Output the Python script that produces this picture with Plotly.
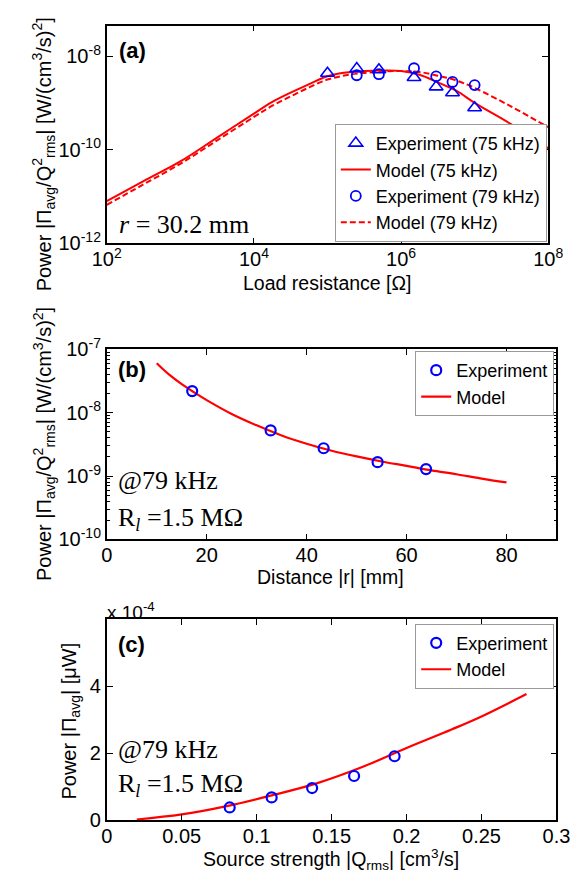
import plotly.graph_objects as go

# ---------------- (a) power vs. load resistance, r = 30.2 mm ----------------
load_exp75 = [1e5, 2.5e5, 5e5, 1.5e6, 3e6, 5e6, 1e7]
pow_exp75 = [4.3e-9, 5.4e-9, 5.1e-9, 3.5e-9, 2.2e-9, 1.65e-9, 7.9e-10]
load_exp79 = [2.5e5, 5e5, 1.5e6, 3e6, 5e6, 1e7]
pow_exp79 = [3.9e-9, 4.1e-9, 5.5e-9, 3.7e-9, 2.8e-9, 2.4e-9]

load_model = [1e2, 3.16e2, 1e3, 3.16e3, 1e4, 1.78e4, 3.16e4, 5.62e4, 1e5, 1.78e5,
              3.16e5, 5.62e5, 1e6, 1.78e6, 3.16e6, 5.62e6, 1e7, 3.16e7, 1e8]
pow_model75 = [7.94e-12, 2.14e-11, 5.62e-11, 1.82e-10, 5.89e-10, 1.05e-9, 1.66e-9,
               2.51e-9, 3.72e-9, 4.47e-9, 4.79e-9, 4.90e-9, 4.79e-9, 3.98e-9,
               2.75e-9, 1.82e-9, 1.0e-9, 3.47e-10, 1.07e-10]
pow_model79 = [6.61e-12, 1.82e-11, 5.01e-11, 1.58e-10, 5.01e-10, 8.71e-10, 1.38e-9,
               2.14e-9, 3.16e-9, 3.89e-9, 4.37e-9, 4.68e-9, 4.79e-9, 4.57e-9,
               3.80e-9, 3.02e-9, 2.09e-9, 8.32e-10, 3.02e-10]

# ---------------- (b) power vs. distance, 79 kHz, R_l = 1.5 MOhm ----------------
dist_exp = [17.1, 32.8, 43.4, 54.2, 63.9]
powd_exp = [2.19e-8, 5.25e-9, 2.75e-9, 1.66e-9, 1.29e-9]
dist_model = [10, 12.5, 15, 17.5, 20, 25, 30, 35, 40, 45, 50, 55, 60, 65, 70, 75, 80]
powd_model = [6.03e-8, 3.98e-8, 2.82e-8, 2.09e-8, 1.58e-8, 9.55e-9, 6.31e-9, 4.37e-9,
              3.24e-9, 2.51e-9, 2.04e-9, 1.70e-9, 1.45e-9, 1.23e-9, 1.07e-9, 9.12e-10,
              7.94e-10]

# ---------------- (c) power vs. source strength (micro-watts) ----------------
q_exp = [0.082, 0.110, 0.137, 0.165, 0.192]
powq_exp = [0.38e-4, 0.68e-4, 0.96e-4, 1.32e-4, 1.91e-4]
q_model = [0.02, 0.05, 0.08, 0.11, 0.14, 0.17, 0.20, 0.23, 0.25, 0.28]
powq_model = [0.02e-4, 0.17e-4, 0.42e-4, 0.74e-4, 1.10e-4, 1.58e-4, 2.16e-4,
              2.71e-4, 3.10e-4, 3.77e-4]

# tick labels
xa_ticks = [1e2, 1e4, 1e6, 1e8]
xa_text = ["10<sup>2</sup>", "10<sup>4</sup>", "10<sup>6</sup>", "10<sup>8</sup>"]
ya_ticks = [1e-12, 1e-10, 1e-8]
ya_text = ["10<sup>-12</sup>", "10<sup>-10</sup>", "10<sup>-8</sup>"]
yb_ticks = [1e-10, 1e-9, 1e-8, 1e-7]
yb_text = ["10<sup>-10</sup>", "10<sup>-9</sup>", "10<sup>-8</sup>", "10<sup>-7</sup>"]
xb_ticks = [0, 20, 40, 60, 80]
xc_ticks = [0, 0.05, 0.1, 0.15, 0.2, 0.25, 0.3]
xc_text = ["0", "0.05", "0.1", "0.15", "0.2", "0.25", "0.3"]
yc_ticks = [0, 2e-4, 4e-4, 6e-4]
yc_text = ["0", "2", "4", " "]

W, H = 586, 888
BLUE = "#0000ff"
RED = "#ff0000"
SANS = "Liberation Sans, Arial, sans-serif"
SERIF = "Liberation Serif, Times New Roman, serif"


def px_x(v):
    return v / W


def px_y(v):
    return 1 - v / H


fig = go.Figure()

tri = dict(symbol="triangle-up-open", size=12, color=BLUE, line=dict(width=1.6, color=BLUE))
circ = dict(symbol="circle-open", size=10, color=BLUE, line=dict(width=1.8, color=BLUE))
circ_b = dict(symbol="circle-open", size=10, color=BLUE, line=dict(width=2.2, color=BLUE))

# (a)
fig.add_trace(go.Scatter(x=load_model, y=pow_model75, mode="lines", name="Model (75 kHz)",
                         line=dict(color=RED, width=2, shape="spline"),
                         xaxis="x", yaxis="y", legend="legend", legendrank=2))
fig.add_trace(go.Scatter(x=load_model, y=pow_model79, mode="lines", name="Model (79 kHz)",
                         line=dict(color=RED, width=2, dash="6px,3px", shape="spline"),
                         xaxis="x", yaxis="y", legend="legend", legendrank=4))
fig.add_trace(go.Scatter(x=load_exp75, y=pow_exp75, mode="markers", name="Experiment (75 kHz)",
                         marker=tri, xaxis="x", yaxis="y", legend="legend", legendrank=1))
fig.add_trace(go.Scatter(x=load_exp79, y=pow_exp79, mode="markers", name="Experiment (79 kHz)",
                         marker=circ, xaxis="x", yaxis="y", legend="legend", legendrank=3))

# (b)
fig.add_trace(go.Scatter(x=dist_model, y=powd_model, mode="lines", name="Model",
                         line=dict(color=RED, width=2.2, shape="spline"),
                         xaxis="x2", yaxis="y2", legend="legend2", legendrank=2))
fig.add_trace(go.Scatter(x=dist_exp, y=powd_exp, mode="markers", name="Experiment",
                         marker=circ_b, xaxis="x2", yaxis="y2", legend="legend2", legendrank=1))

# (c)
fig.add_trace(go.Scatter(x=q_model, y=powq_model, mode="lines", name="Model",
                         line=dict(color=RED, width=2.2, shape="spline"),
                         xaxis="x3", yaxis="y3", legend="legend3", legendrank=2))
fig.add_trace(go.Scatter(x=q_exp, y=powq_exp, mode="markers", name="Experiment",
                         marker=circ_b, xaxis="x3", yaxis="y3", legend="legend3", legendrank=1))


def ax(**kw):
    d = dict(showline=True, linecolor="black", linewidth=1.6, mirror="ticks",
             ticks="inside", ticklen=6, tickwidth=1.3, tickcolor="black",
             showgrid=False, zeroline=False,
             tickfont=dict(family=SANS, size=20, color="black"))
    d.update(kw)
    return d


minor_b = [k * 10.0 ** e for e in (-10, -9, -8) for k in range(2, 10)]

fig.update_layout(
    width=W, height=H, margin=dict(l=0, r=0, t=0, b=0),
    paper_bgcolor="white", plot_bgcolor="white",
    xaxis=ax(type="log", range=[2, 8], domain=[px_x(96.7), px_x(562)],
             tickvals=xa_ticks, ticktext=xa_text, anchor="y", ticklabelstandoff=-3),
    yaxis=ax(type="log", range=[-12, -7.35], domain=[px_y(236), px_y(12)],
             tickvals=ya_ticks, ticktext=ya_text, anchor="x"),
    xaxis2=ax(range=[0, 90], domain=[px_x(96.7), px_x(570.7)],
              tickvals=xb_ticks, anchor="y2", ticklabelstandoff=-3),
    yaxis2=ax(type="log", range=[-10, -7], domain=[px_y(540.7), px_y(345)],
              tickvals=yb_ticks, ticktext=yb_text, anchor="x2",
              minor=dict(tickvals=minor_b, ticks="inside", ticklen=3,
                         tickcolor="black", tickwidth=1)),
    xaxis3=ax(range=[0, 0.3], domain=[px_x(96.7), px_x(570.7)],
              tickvals=xc_ticks, ticktext=xc_text, anchor="y3", ticklabelstandoff=-3),
    yaxis3=ax(range=[0, 6e-4], domain=[px_y(829.5), px_y(623)],
              tickvals=yc_ticks, ticktext=yc_text, anchor="x3"),
)

leg_common = dict(bgcolor="white", bordercolor="#9a9a9a", borderwidth=1,
                  font=dict(family=SANS, size=18, color="black"),
                  xanchor="right", itemwidth=30, tracegroupgap=0)
fig.update_layout(
    legend=dict(x=px_x(560.5), y=px_y(234.5), yanchor="bottom", **leg_common),
    legend2=dict(x=px_x(568.3), y=px_y(346.7), yanchor="top", **leg_common),
    legend3=dict(x=px_x(568.3), y=px_y(627.3), yanchor="top", **leg_common),
)

ann = []


def note(text, x, y, size=19.5, family=SANS, xanchor="center", yanchor="middle", angle=0):
    ann.append(dict(text=text, x=px_x(x), y=px_y(y), xref="paper", yref="paper",
                    showarrow=False, xanchor=xanchor, yanchor=yanchor, textangle=angle,
                    font=dict(family=family, size=size, color="black")))


# panel letters
note("<b>(a)</b>", 107, 38, size=22, xanchor="left")
note("<b>(b)</b>", 106.7, 366, size=22, xanchor="left")
note("<b>(c)</b>", 106.7, 649, size=22, xanchor="left")

# condition labels
note("<i>r</i> = 30.2 mm", 107, 216.7, size=26, family=SERIF, xanchor="left")
note("@79 kHz", 106, 480, size=26, family=SERIF, xanchor="left")
note("R<sub><i>l</i></sub> =1.5 MΩ", 106, 520, size=26, family=SERIF, xanchor="left")
note("@79 kHz", 106, 756.7, size=26, family=SERIF, xanchor="left")
note("R<sub><i>l</i></sub> =1.5 MΩ", 106, 793.3, size=26, family=SERIF, xanchor="left")

# axis titles
note("Load resistance [Ω]", 329, 277)
note("Distance |r| [mm]", 333, 579)
note("Source strength |Q<sub>rms</sub>| [cm<sup>3</sup>/s]", 333, 870)
note("Power |Π<sub>avg</sub>/Q<sup>2</sup><sub>rms</sub>| [W/(cm<sup>3</sup>/s)<sup>2</sup>]",
     31, 144, size=20, angle=-90)
note("Power |Π<sub>avg</sub>/Q<sup>2</sup><sub>rms</sub>| [W/(cm<sup>3</sup>/s)<sup>2</sup>]",
     31, 442, size=20, angle=-90)
note("Power |Π<sub>avg</sub>| [μW]", 58, 728, size=20, angle=-90)

# exponent multiplier for (c)
note("x 10<sup>-4</sup>", 95, 614, size=19, xanchor="left")

fig.update_layout(annotations=ann)

fig.write_html("out.html")
